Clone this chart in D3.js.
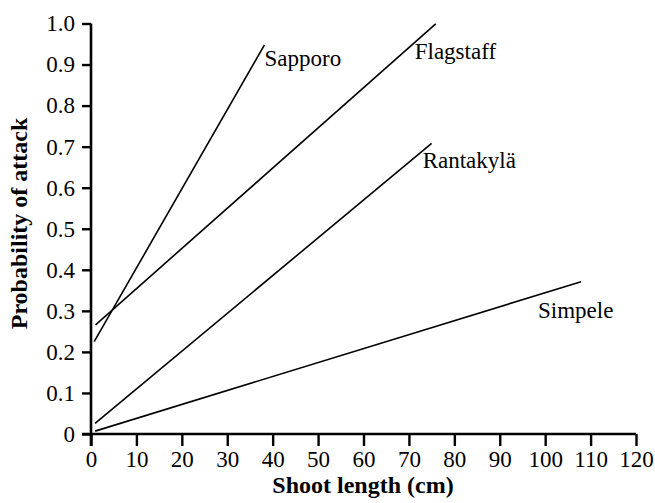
<!DOCTYPE html>
<html>
<head>
<meta charset="utf-8">
<script src="https://cdn.jsdelivr.net/npm/d3@7"></script>
<style>
  html, body { margin: 0; padding: 0; background: #fff; }
  svg { display: block; font-family: "Liberation Serif", "Times New Roman", serif; }
</style>
</head>
<body>
<svg id="chart" width="655" height="503"></svg>
<script>
// ---- data ----
const sites   = ["Sapporo", "Flagstaff", "Rantakylä", "Simpele"];
const startX  = [0.7, 1.0, 0.9, 0.9];        // shoot length (cm) at line start
const startY  = [0.225, 0.266, 0.026, 0.007]; // probability at line start
const endX    = [38.2, 75.9, 75.0, 107.9];    // shoot length (cm) at line end
const endY    = [0.948, 0.999, 0.708, 0.371]; // probability at line end
const xTicks  = [0, 10, 20, 30, 40, 50, 60, 70, 80, 90, 100, 110, 120];
const yTicks  = [0, 0.1, 0.2, 0.3, 0.4, 0.5, 0.6, 0.7, 0.8, 0.9, 1.0];
const xTitle  = "Shoot length (cm)";
const yTitle  = "Probability of attack";

// ---- layout / style ----
const svg = d3.select("#chart");
const x = d3.scaleLinear().domain([0, 120]).range([91, 636]);
const y = d3.scaleLinear().domain([0, 1]).range([434, 23.5]);
// label offsets (px) from each line's end
const labelDX = [0, -21, -9, -43];
const labelDY = [21, 35, 25, 36];

const xAxis = d3.axisBottom(x).tickValues(xTicks).tickSize(12).tickSizeOuter(0).tickPadding(5)
  .tickFormat(d3.format("d"));
const yAxis = d3.axisLeft(y).tickValues(yTicks).tickSize(9).tickSizeOuter(0).tickPadding(7)
  .tickFormat(d => d === 0 ? "0" : d3.format(".1f")(d));

const gx = svg.append("g").attr("transform", `translate(0,${y(0)})`).call(xAxis);
const gy = svg.append("g").attr("transform", `translate(${x(0)},0)`).call(yAxis);

[gx, gy].forEach(g => {
  g.attr("font-family", "Liberation Serif, Times New Roman, serif").attr("font-size", 23);
  g.select(".domain").attr("stroke", "#000").attr("stroke-width", 2.6);
  g.selectAll(".tick line").attr("stroke", "#000").attr("stroke-width", 2.4);
  g.selectAll(".tick text").attr("fill", "#000");
});
// extend x-axis line left to meet the 0 y-tick
gx.select(".domain").attr("d", `M${x(0) - 9},0H${x(120)}`);
gy.select(".domain").attr("d", `M0,${y(1)}V${y(0) + 12}`);

// ---- lines ----
const data = sites.map((s, i) => ({ name: s, x0: startX[i], y0: startY[i], x1: endX[i], y1: endY[i], i }));
svg.append("g").selectAll("line").data(data).join("line")
  .attr("x1", d => x(d.x0)).attr("y1", d => y(d.y0))
  .attr("x2", d => x(d.x1)).attr("y2", d => y(d.y1))
  .attr("stroke", "#000").attr("stroke-width", 1.6);

svg.append("g").selectAll("text").data(data).join("text")
  .attr("x", d => x(d.x1) + labelDX[d.i])
  .attr("y", d => y(d.y1) + labelDY[d.i])
  .attr("font-size", 23).attr("fill", "#000")
  .text(d => d.name);

// ---- axis titles ----
svg.append("text").attr("x", 363).attr("y", 493).attr("text-anchor", "middle")
  .attr("font-size", 24).attr("font-weight", "bold").text(xTitle);
svg.append("text").attr("transform", "translate(27,223.5) rotate(-90)").attr("text-anchor", "middle")
  .attr("font-size", 24).attr("font-weight", "bold").text(yTitle);
</script>
</body>
</html>
